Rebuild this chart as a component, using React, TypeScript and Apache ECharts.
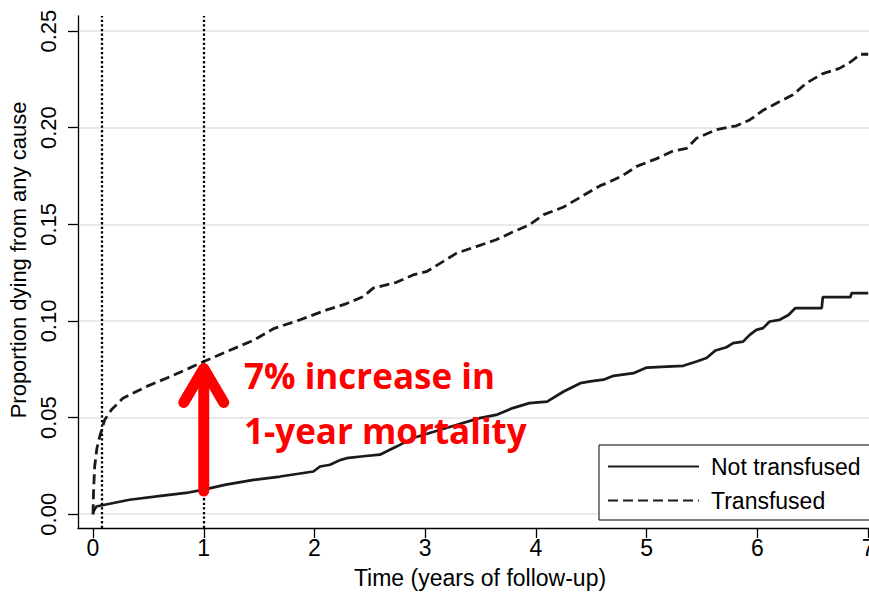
import React, { useEffect, useRef } from "react";
import * as echarts from "echarts";

// Time (years) and cumulative proportion dying
const notTransfused: [number, number][] = [
  [0, 0], [0.005, 0.0015], [0.03, 0.004], [0.106, 0.0049], [0.33, 0.0075], [0.63, 0.0096],
  [0.84, 0.011], [1.0, 0.0127], [1.2, 0.0153], [1.45, 0.0178], [1.69, 0.0195], [1.99, 0.0221],
  [2.05, 0.0247], [2.14, 0.0256], [2.23, 0.028], [2.29, 0.029], [2.44, 0.03], [2.59, 0.0308],
  [2.74, 0.035], [2.89, 0.0394], [3.04, 0.042], [3.19, 0.0446], [3.34, 0.0472], [3.49, 0.0497],
  [3.64, 0.0514], [3.79, 0.0549], [3.94, 0.0575], [4.1, 0.0583], [4.25, 0.0635], [4.4, 0.0678],
  [4.49, 0.0687], [4.61, 0.0696], [4.7, 0.0716], [4.88, 0.073], [5.0, 0.0759], [5.18, 0.0764],
  [5.33, 0.0768], [5.45, 0.079], [5.54, 0.0808], [5.62, 0.0847], [5.72, 0.0864], [5.78, 0.0885],
  [5.87, 0.0893], [5.93, 0.0928], [5.99, 0.0954], [6.05, 0.0963], [6.11, 0.0997], [6.2, 0.1006],
  [6.28, 0.1031], [6.34, 0.1066], [6.58, 0.1066], [6.59, 0.1123], [6.84, 0.1123], [6.85, 0.1144],
  [7.0, 0.1144],
];

const transfused: [number, number][] = [
  [0, 0], [0.005, 0.012], [0.015, 0.0247], [0.035, 0.034], [0.06, 0.04], [0.106, 0.0489],
  [0.166, 0.054], [0.27, 0.06], [0.48, 0.066], [0.69, 0.071], [0.87, 0.0756], [1.0, 0.079],
  [1.2, 0.084], [1.45, 0.09], [1.63, 0.096], [1.87, 0.1006], [2.11, 0.1057], [2.29, 0.109],
  [2.44, 0.1126], [2.53, 0.117], [2.74, 0.12], [2.89, 0.1238], [3.01, 0.1255], [3.16, 0.1307],
  [3.28, 0.135], [3.46, 0.1385], [3.64, 0.142], [3.79, 0.146], [3.94, 0.1497], [4.07, 0.155],
  [4.25, 0.159], [4.43, 0.165], [4.58, 0.17], [4.64, 0.1713], [4.79, 0.1755], [4.91, 0.18],
  [5.09, 0.184], [5.24, 0.188], [5.36, 0.1893], [5.45, 0.1945], [5.63, 0.199], [5.81, 0.201],
  [5.93, 0.204], [6.05, 0.209], [6.2, 0.2135], [6.32, 0.217], [6.44, 0.223], [6.59, 0.228],
  [6.74, 0.2307], [6.84, 0.234], [6.93, 0.238], [7.0, 0.238],
];

const xTicks = [0, 1, 2, 3, 4, 5, 6, 7];
const yTicks = [0, 0.05, 0.1, 0.15, 0.2, 0.25];
const referenceTimes = [0.08, 1];
// arrow at 1 year: from not-transfused to transfused proportion
const arrow: [number, number, number][] = [[1, 0.012, 0.078]];
const seriesNames = ["Not transfused", "Transfused"];
const annotation = "7% increase in\n1-year mortality";
const xTitle = "Time (years of follow-up)";
const yTitle = "Proportion dying from any cause";

const FONT = "'Liberation Sans', Arial, sans-serif";

export default function App() {
  const ref = useRef<HTMLDivElement>(null);
  useEffect(() => {
    if (!ref.current) return;
    const chart = echarts.init(ref.current, undefined, { renderer: "svg" });
    const axisColor = "#000";
    chart.setOption({
      animation: false,
      backgroundColor: "#fff",
      grid: { left: 78, right: 0, top: 16, bottom: 64, containLabel: false, outerBoundsMode: "none" },
      legend: {
        data: seriesNames,
        orient: "vertical",
        left: 599,
        top: 445,
        backgroundColor: "#fff",
        borderColor: "#000",
        borderWidth: 1,
        borderRadius: 0,
        padding: [10, 10, 8, 8],
        itemWidth: 91,
        itemHeight: 20,
        itemGap: 11,
        itemStyle: { color: "transparent", borderColor: "transparent", borderWidth: 0, opacity: 0 },
        textStyle: { fontFamily: FONT, fontSize: 23, color: "#000", padding: [0, 0, 0, 7] },
      },
      xAxis: {
        type: "value",
        min: -0.1355,
        max: 7.007,
        name: xTitle,
        nameLocation: "middle",
        nameGap: 38,
        nameTextStyle: { fontFamily: FONT, fontSize: 23, color: "#000", padding: [0, 0, 0, 13] },
        axisLine: { show: true, onZero: false, lineStyle: { color: axisColor, width: 1.3 } },
        axisTick: { show: true, length: 10, customValues: xTicks, lineStyle: { color: axisColor, width: 1.3 } },
        axisLabel: { customValues: xTicks, fontFamily: FONT, fontSize: 23, color: "#000", margin: 8 },
        splitLine: { show: false },
      },
      yAxis: {
        type: "value",
        min: -0.00713,
        max: 0.2578,
        name: yTitle,
        nameLocation: "middle",
        nameRotate: 90,
        nameGap: 39,
        nameTextStyle: { fontFamily: FONT, fontSize: 22, color: "#000", padding: [0, 0, 0, 24] },
        axisLine: { show: true, onZero: false, lineStyle: { color: axisColor, width: 1.3 } },
        axisTick: { show: true, length: 10, customValues: yTicks, lineStyle: { color: axisColor, width: 1.3 } },
        axisLabel: {
          customValues: yTicks,
          rotate: 90,
          fontFamily: FONT,
          fontSize: 22,
          color: "#000",
          margin: 19,
          formatter: (v: number) => v.toFixed(2),
        },
        splitLine: { show: true, lineStyle: { color: "#e9e9e9", width: 2 } },
      },
      series: [
        {
          name: seriesNames[0],
          type: "line",
          data: notTransfused,
          symbol: "none",
          lineStyle: { color: "#1a1a1a", width: 2.7, type: "solid" },
          itemStyle: { color: "#1a1a1a" },
          z: 3,
          markLine: {
            silent: true,
            symbol: "none",
            label: { show: false },
            lineStyle: { color: "#000", width: 2.3, type: [2.3, 2.3] },
            data: referenceTimes.map((t) => ({ xAxis: t })),
          },
        },
        {
          name: seriesNames[1],
          type: "line",
          data: transfused,
          symbol: "none",
          lineStyle: { color: "#1a1a1a", width: 2.8, type: [10, 5] },
          itemStyle: { color: "#1a1a1a" },
          z: 3,
        },
        {
          name: "arrow",
          type: "custom",
          data: arrow,
          encode: { x: 0, y: [1, 2] },
          z: 5,
          renderItem: (params: any, api: any) => {
            const x = api.value(0);
            const p0 = api.coord([x, api.value(1)]);
            const p1 = api.coord([x, api.value(2)]);
            const red = "#ff0000";
            return {
              type: "group",
              children: [
                {
                  type: "line",
                  shape: { x1: p0[0], y1: p0[1], x2: p1[0], y2: p1[1] + 8 },
                  style: { stroke: red, lineWidth: 11, lineCap: "round" },
                },
                {
                  type: "polyline",
                  shape: {
                    points: [
                      [p1[0] - 20, p1[1] + 39],
                      [p1[0], p1[1] + 5],
                      [p1[0] + 20, p1[1] + 39],
                    ],
                  },
                  style: { stroke: red, fill: "none", lineWidth: 11, lineCap: "round", lineJoin: "round" },
                },
              ],
            };
          },
        },
      ],
      graphic: [
        {
          type: "text",
          left: 244,
          top: 348,
          z: 10,
          style: {
            text: annotation,
            fill: "#ff0000",
            font: "bold 35px 'Open Sans', sans-serif",
            lineHeight: 55,
          },
        },
      ],
    });
    return () => chart.dispose();
  }, []);
  return (
    <div
      ref={ref}
      style={{ position: "absolute", left: 0, top: 0, width: 869, height: 592 }}
    />
  );
}
